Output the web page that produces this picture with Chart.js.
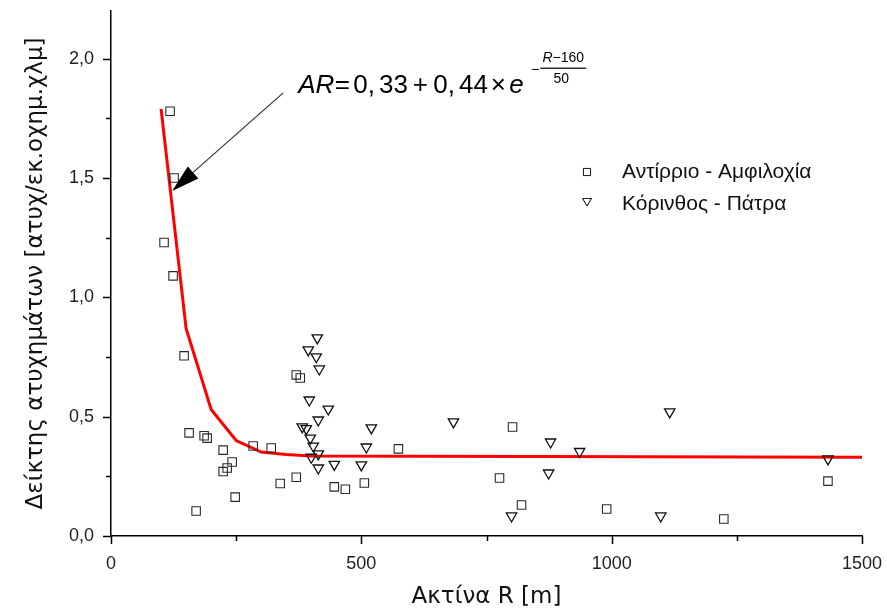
<!DOCTYPE html>
<html>
<head>
<meta charset="utf-8">
<script src="https://cdn.jsdelivr.net/npm/chart.js@4.4.0/dist/chart.umd.min.js"></script>
<style>
  html, body { margin: 0; padding: 0; background: #fff; }
  canvas { display: block; }
</style>
</head>
<body>
<canvas id="accChart" width="887" height="614"></canvas>
<script>
// Αντίρριο - Αμφιλοχία (τετράγωνα)
const antR  = [118, 126, 106, 124, 146, 156, 186, 192, 224, 242, 232, 224, 248, 170, 284,
               320, 338, 370, 370, 378, 446, 468, 506, 574, 802, 776, 820, 990, 1224, 1432];
const antAR = [1.78, 1.50, 1.23, 1.09, 0.755, 0.432, 0.42, 0.41, 0.36, 0.31, 0.285, 0.27, 0.163, 0.105, 0.377,
               0.369, 0.22, 0.246, 0.675, 0.662, 0.206, 0.196, 0.222, 0.365, 0.457, 0.243, 0.13, 0.113, 0.071, 0.23];

// Κόρινθος - Πάτρα (τρίγωνα)
const korR  = [412, 394, 410, 416, 396, 434, 414, 382, 390, 398, 404, 414, 400, 414, 446,
               520, 510, 500, 684, 878, 874, 800, 936, 1116, 1098, 1432];
const korAR = [0.83, 0.78, 0.751, 0.70, 0.57, 0.532, 0.486, 0.457, 0.45, 0.41, 0.377, 0.344, 0.33, 0.285, 0.30,
               0.453, 0.373, 0.298, 0.478, 0.394, 0.264, 0.084, 0.354, 0.52, 0.084, 0.323];

// καμπύλη προσαρμογής
const fitR  = [100, 150, 200, 250, 300, 350, 400, 1500];
const fitAR = [1.79, 0.87, 0.53, 0.40, 0.352, 0.342, 0.335, 0.33];

const seriesNames = ['Αντίρριο - Αμφιλοχία', 'Κόρινθος - Πάτρα'];
const xTitle = 'Ακτίνα R [m]';
const yTitle = 'Δείκτης ατυχημάτων [ατυχ/εκ.οχημ.χλμ]';

// θέσεις εξίσωσης και βέλους σε μονάδες αξόνων
const eqAt = [374, 1.858];
const arrowFrom = [344, 1.857];
const arrowTo = [122, 1.446];

const pts = (xs, ys) => xs.map((v, i) => ({ x: v, y: ys[i] }));

const TICK_FONT = '"Liberation Sans", Arial, sans-serif';
const TITLE_FONT = '"DejaVu Sans", Verdana, sans-serif';

// κύρια και δευτερεύοντα σημάδια στους άξονες
const tickMarks = {
  id: 'tickMarks',
  afterDraw(chart) {
    const { ctx, chartArea: a, scales: { x, y } } = chart;
    ctx.save();
    ctx.strokeStyle = '#000';
    ctx.lineWidth = 1.5;
    ctx.beginPath();
    x.ticks.forEach(t => {
      const px = Math.round(x.getPixelForValue(t.value)) + 0.5;
      const len = t.value % 500 === 0 ? 8 : 5;
      ctx.moveTo(px, a.bottom);
      ctx.lineTo(px, a.bottom + len);
    });
    y.ticks.forEach(t => {
      const py = Math.round(y.getPixelForValue(t.value)) + 0.5;
      const major = Math.abs(t.value * 2 - Math.round(t.value * 2)) < 1e-6;
      ctx.moveTo(a.left, py);
      ctx.lineTo(a.left - (major ? 8 : 5), py);
    });
    ctx.stroke();
    ctx.restore();
  }
};

function marker(ctx, style, cx, cy, r, rot) {
  if (Chart.helpers && Chart.helpers.drawPoint) {
    Chart.helpers.drawPoint(ctx, { pointStyle: style, radius: r, rotation: rot, borderWidth: 1 }, cx, cy);
    ctx.fill();
    ctx.stroke();
  }
}

// εξίσωση, βέλος και υπόμνημα
const notes = {
  id: 'notes',
  afterDatasetsDraw(chart) {
    const { ctx, scales: { x, y } } = chart;
    const px = v => x.getPixelForValue(v);
    const py = v => y.getPixelForValue(v);
    ctx.save();

    // βέλος
    const x0 = px(arrowFrom[0]), y0 = py(arrowFrom[1]);
    const x1 = px(arrowTo[0]), y1 = py(arrowTo[1]);
    const ang = Math.atan2(y1 - y0, x1 - x0);
    const headLen = 28, headW = 8;
    const bx = x1 - Math.cos(ang) * headLen, by = y1 - Math.sin(ang) * headLen;
    ctx.strokeStyle = '#333';
    ctx.lineWidth = 1.2;
    ctx.beginPath();
    ctx.moveTo(x0, y0);
    ctx.lineTo(bx, by);
    ctx.stroke();
    ctx.fillStyle = '#000';
    ctx.beginPath();
    ctx.moveTo(x1, y1);
    ctx.lineTo(bx + Math.sin(ang) * headW, by - Math.cos(ang) * headW);
    ctx.lineTo(bx - Math.sin(ang) * headW, by + Math.cos(ang) * headW);
    ctx.closePath();
    ctx.fill();

    // AR = 0,33 + 0,44 × e^(-(R-160)/50)
    const ex = px(eqAt[0]), ey = py(eqAt[1]);
    const big = '26px ' + TICK_FONT, bigIt = 'italic 26px ' + TICK_FONT;
    const sm = '14px ' + TICK_FONT, smIt = 'italic 14px ' + TICK_FONT;
    ctx.fillStyle = '#000';
    ctx.textBaseline = 'alphabetic';
    ctx.textAlign = 'left';
    ctx.font = bigIt;
    ctx.fillText('AR', ex, ey);
    ctx.font = big;
    ctx.textAlign = 'center';
    ctx.fillText('=', ex + 44, ey);
    ctx.textAlign = 'left';
    ctx.fillText('0,', ex + 55, ey);
    ctx.fillText('33', ex + 55 + ctx.measureText('0,').width + 4, ey);
    ctx.textAlign = 'center';
    ctx.fillText('+', ex + 122, ey);
    ctx.textAlign = 'left';
    ctx.fillText('0,', ex + 135, ey);
    ctx.fillText('44', ex + 135 + ctx.measureText('0,').width + 4, ey);
    ctx.textAlign = 'center';
    ctx.fillText('\u00d7', ex + 200, ey);
    ctx.textAlign = 'left';
    ctx.font = bigIt;
    ctx.fillText('e', ex + 211, ey);

    // εκθέτης
    ctx.font = sm;
    ctx.textAlign = 'center';
    ctx.fillText('\u2212', ex + 237, ey - 19);
    ctx.fillRect(ex + 242, ey - 25, 46, 1.2);
    ctx.font = smIt;
    const rW = ctx.measureText('R').width;
    ctx.font = sm;
    const restW = ctx.measureText('\u2212160').width;
    const numL = ex + 265 - (rW + restW) / 2;
    ctx.textAlign = 'left';
    ctx.font = smIt;
    ctx.fillText('R', numL, ey - 31);
    ctx.font = sm;
    ctx.fillText('\u2212160', numL + rW, ey - 31);
    ctx.textAlign = 'center';
    ctx.fillText('50', ex + 263, ey - 10);

    // υπόμνημα
    const lx = chart.chartArea.left + 476, ly = chart.chartArea.top + 161;
    ctx.strokeStyle = '#222';
    ctx.fillStyle = '#fff';
    ctx.lineWidth = 1;
    marker(ctx, 'rect', lx, ly, 5, 0);
    marker(ctx, 'triangle', lx, ly + 29, 5, 180);
    ctx.fillStyle = '#111';
    ctx.font = '21px ' + TICK_FONT;
    ctx.textAlign = 'left';
    ctx.textBaseline = 'middle';
    ctx.fillText(seriesNames[0], lx + 35, ly, 196);
    ctx.fillText(seriesNames[1], lx + 35, ly + 32, 196);
    ctx.restore();
  }
};

new Chart(document.getElementById('accChart'), {
  type: 'scatter',
  data: {
    datasets: [
      {
        label: seriesNames[0],
        data: pts(antR, antAR),
        pointStyle: 'rect',
        pointRadius: 6,
        pointBorderWidth: 1.1,
        borderColor: '#2a2a2a',
        backgroundColor: 'rgba(255,255,255,0)',
        order: 1
      },
      {
        label: seriesNames[1],
        data: pts(korR, korAR),
        pointStyle: 'triangle',
        pointRotation: 180,
        pointRadius: 6,
        pointBorderWidth: 1.3,
        borderColor: '#111',
        backgroundColor: 'rgba(255,255,255,0)',
        order: 1
      },
      {
        type: 'line',
        label: 'AR',
        data: pts(fitR, fitAR),
        borderColor: '#ff0000',
        borderWidth: 3,
        pointRadius: 0,
        tension: 0,
        fill: false,
        order: 2
      }
    ]
  },
  options: {
    responsive: false,
    animation: false,
    layout: { padding: { top: 11, right: 25, left: 0, bottom: 0 } },
    plugins: { legend: { display: false }, tooltip: { enabled: false } },
    scales: {
      x: {
        type: 'linear',
        min: 0,
        max: 1500,
        grid: { drawOnChartArea: false, drawTicks: false },
        border: { color: '#000', width: 1.5 },
        ticks: {
          stepSize: 250,
          autoSkip: false,
          maxRotation: 0,
          padding: 17,
          color: '#222',
          font: { family: TICK_FONT, size: 18 },
          callback: v => (v % 500 === 0 ? String(v) : '')
        },
        title: {
          display: true,
          text: xTitle,
          color: '#111',
          font: { family: TITLE_FONT, size: 23, lineHeight: 1.2 },
          padding: { top: 0, bottom: 3 }
        },
        afterFit: s => {
          s.height = 78;
          s.paddingLeft = 0;
          s.paddingRight = 0;
        }
      },
      y: {
        min: 0,
        max: 2.2,
        grid: { drawOnChartArea: false, drawTicks: false },
        border: { color: '#000', width: 1.5 },
        ticks: {
          stepSize: 0.25,
          includeBounds: false,
          autoSkip: false,
          padding: 17,
          color: '#222',
          font: { family: TICK_FONT, size: 18 },
          callback: v => (Math.abs(v * 2 - Math.round(v * 2)) < 1e-6 ? v.toFixed(1).replace('.', ',') : '')
        },
        title: {
          display: true,
          text: yTitle,
          color: '#111',
          font: { family: TITLE_FONT, size: 23, lineHeight: 1.2 },
          padding: { top: 22, bottom: 0 }
        },
        afterFit: s => {
          s.width = 111;
          s.paddingTop = 0;
          s.paddingBottom = 0;
        }
      }
    }
  },
  plugins: [tickMarks, notes]
});
</script>
</body>
</html>
